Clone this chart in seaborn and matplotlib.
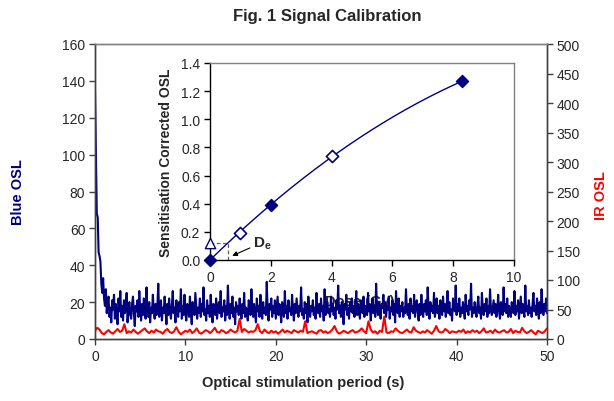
import numpy as np
import pandas as pd
import matplotlib
matplotlib.use("Agg")
import matplotlib.pyplot as plt
import seaborn as sns

# ---------------- data ----------------
blue_osl = [
    135, 100, 68, 66, 47, 45, 42, 30, 25, 33, 22, 18, 27, 14, 20, 23, 12, 17, 9, 21,
    16, 24, 11, 19, 13, 8, 22, 15, 26, 12, 18, 10, 21, 14, 17, 25, 9, 16, 20, 13,
    11, 19, 23, 14, 7, 18, 15, 21, 12, 26, 16, 10, 19, 13, 22, 17, 11, 28, 15, 12,
    20, 9, 17, 14, 24, 16, 11, 19, 13, 18, 30, 12, 15, 21, 10, 17, 14, 23, 16, 8,
    19, 13, 22, 15, 11, 18, 26, 14, 17, 9, 21, 16, 12, 20, 15, 27, 11, 18, 13, 24,
    14, 10, 19, 17, 12, 23, 15, 8, 20, 16, 13, 25, 18, 11, 17, 14, 22, 12, 19, 15,
    28, 13, 16, 10, 21, 14, 18, 12, 24, 15, 9, 19, 17, 13, 22, 11, 16, 20, 14, 26,
    12, 17, 15, 21, 10, 18, 13, 29, 16, 11, 19, 14, 23, 12, 17, 8, 20, 15, 18, 13,
    22, 16, 11, 19, 14, 25, 12, 17, 15, 10, 21, 18, 13, 27, 16, 12, 19, 14, 9, 22,
    15, 18, 12, 24, 16, 11, 20, 14, 17, 13, 31, 15, 10, 19, 16, 22, 12, 18, 14, 21,
    11, 17, 23, 13, 19, 15, 9, 20, 16, 12, 26, 14, 18, 11, 21, 15, 17, 13, 24, 16,
    10, 19, 14, 22, 17, 12, 18, 15, 28, 13, 16, 11, 20, 14, 19, 9, 23, 16, 12, 18,
    15, 21, 13, 17, 11, 25, 16, 14, 19, 12, 22, 15, 18, 10, 27, 13, 17, 20, 14, 16,
    12, 23, 15, 19, 13, 17, 11, 21, 16, 29, 14, 18, 12, 20, 15, 8, 19, 16, 24, 13,
    17, 11, 20, 15, 22, 14, 18, 12, 16, 26, 13, 19, 15, 11, 21, 17, 14, 23, 12, 18,
    16, 13, 25, 15, 19, 10, 17, 22, 14, 18, 12, 30, 16, 13, 20, 15, 11, 19, 17, 24,
    14, 20, 12, 18, 16, 23, 11, 17, 15, 21, 13, 19, 9, 26, 16, 14, 22, 12, 18, 15,
    20, 12, 17, 14, 27, 16, 13, 19, 11, 22, 15, 18, 14, 24, 12, 17, 21, 15, 10, 19,
    13, 24, 16, 12, 19, 15, 21, 13, 28, 17, 11, 20, 15, 18, 14, 25, 12, 16, 22, 14,
    18, 11, 21, 16, 13, 23, 15, 19, 12, 17, 26, 14, 20, 13, 16, 10, 22, 17, 15, 29,
    13, 19, 15, 22, 12, 17, 14, 20, 16, 11, 24, 15, 18, 13, 21, 16, 30, 12, 17, 14,
    20, 15, 12, 18, 23, 14, 17, 11, 25, 16, 13, 19, 15, 22, 12, 18, 14, 27, 16, 13,
    17, 21, 14, 19, 12, 16, 24, 15, 11, 20, 17, 13, 28, 15, 19, 14, 22, 12, 18, 16,
    12, 20, 16, 14, 26, 13, 18, 15, 21, 11, 17, 23, 14, 19, 16, 12, 29, 15, 18, 13,
    21, 14, 17, 12, 19, 25, 15, 18, 13, 22, 16, 11, 20, 14, 27, 17, 13, 19, 15, 22, 14,
]
ir_osl = [
    14, 19, 16, 10, 8, 12, 15, 11, 9, 13, 17, 12, 14, 25, 10, 13, 11, 16, 12, 9,
    12, 15, 18, 13, 10, 14, 11, 16, 13, 12, 9, 14, 17, 12, 10, 13, 20, 12, 8, 11,
    14, 12, 16, 10, 13, 18, 11, 9, 12, 15, 13, 10, 14, 19, 12, 11, 15, 13, 10, 12,
    16, 13, 11, 14, 34, 12, 17, 14, 11, 13, 12, 15, 25, 13, 10, 16, 12, 10, 14, 11,
    13, 9, 12, 16, 11, 14, 12, 10, 15, 13, 11, 14, 12, 30, 10, 12, 13, 11, 9, 14,
    15, 11, 13, 10, 12, 16, 22, 13, 9, 11, 14, 12, 10, 13, 15, 11, 12, 14, 18, 13,
    10, 30, 16, 11, 13, 9, 14, 12, 38, 11, 10, 13, 12, 18, 14, 11, 10, 13, 16, 12,
    11, 20, 14, 12, 10, 13, 11, 15, 12, 9, 14, 22, 13, 11, 12, 17, 14, 10, 13, 12,
    11, 14, 12, 16, 10, 13, 11, 15, 12, 14, 10, 13, 18, 11, 12, 14, 10, 16, 12, 11,
    13, 15, 11, 12, 17, 10, 14, 12, 11, 19, 13, 10, 12, 15, 11, 8, 14, 12, 10, 13, 18,
]
stim_start, stim_end = 0, 50

dose_filled = [0, 2, 8.3]
osl_filled = [0, 0.39, 1.27]
dose_open = [1, 4]
osl_open = [0.19, 0.74]
natural_osl = 0.12

left_ticks = [0, 20, 40, 60, 80, 100, 120, 140, 160]
right_ticks = [0, 50, 100, 150, 200, 250, 300, 350, 400, 450, 500]
x_ticks = [0, 10, 20, 30, 40, 50]
inset_x_ticks = [0, 2, 4, 6, 8, 10]
inset_y_ticks = [0.0, 0.2, 0.4, 0.6, 0.8, 1.0, 1.2, 1.4]

# ---------------- style ----------------
sns.set_theme(style="white")
plt.rcParams["font.family"] = ["Liberation Sans", "DejaVu Sans"]
plt.rcParams["mathtext.fontset"] = "custom"
plt.rcParams["mathtext.rm"] = "Liberation Sans"
plt.rcParams["mathtext.bf"] = "Liberation Sans:bold"

NAVY = "#000080"
RED = "#FF0000"
AX = "#404040"

fig = plt.figure(figsize=(6.14, 4.02), dpi=100)
W, H = 614, 402

def fax(l, t, r, b):
    return [l / W, 1 - b / H, (r - l) / W, (b - t) / H]

ax = fig.add_axes(fax(95, 45, 547, 340))
ax2 = ax.twinx()

df_blue = pd.DataFrame({"t": np.linspace(stim_start, stim_end, len(blue_osl)), "v": blue_osl})
df_red = pd.DataFrame({"t": np.linspace(stim_start, stim_end, len(ir_osl)), "v": ir_osl})

sns.lineplot(data=df_blue, x="t", y="v", ax=ax, color=NAVY, lw=1.5, zorder=2)
sns.lineplot(data=df_red, x="t", y="v", ax=ax2, color=RED, lw=1.5, zorder=2)

ax.set_xlim(0, 50)
ax.set_ylim(0, 160)
ax2.set_ylim(0, 500)
ax.set_xticks(x_ticks)
ax.set_yticks(left_ticks)
ax2.set_yticks(right_ticks)
ax.set_xlabel("")
ax.set_ylabel("")
ax2.set_ylabel("")
for a in (ax, ax2):
    a.tick_params(axis="both", direction="out", length=4, width=1, color=AX,
                  labelsize=10, pad=3)
    for s in a.spines.values():
        s.set_color(AX)
        s.set_linewidth(1)
    a.spines["top"].set_color("#808080")
ax.tick_params(axis="x", bottom=True)
ax.tick_params(axis="y", left=True)
ax2.tick_params(axis="y", right=True)

fig.text(18 / W, 1 - 192 / H, "Blue OSL", rotation=90, ha="center", va="center",
         fontsize=10.5, fontweight="bold", color=NAVY)
fig.text(601 / W, 1 - 196 / H, "IR OSL", rotation=90, ha="center", va="center",
         fontsize=10.5, fontweight="bold", color=RED)
fig.text(303 / W, 1 - 383 / H, "Optical stimulation period (s)", ha="center",
         va="center", fontsize=10.5, fontweight="bold")
fig.text(327 / W, 1 - 16 / H, "Fig. 1 Signal Calibration", ha="center",
         va="center", fontsize=12, fontweight="bold")

# inset x label sits behind the blue signal
ax.text(360 / W, 1 - 302 / H, "Dose (Gy)", transform=fig.transFigure, ha="center",
        va="center", fontsize=10.5, fontweight="bold", zorder=1)

# ---------------- inset ----------------
ins = fig.add_axes(fax(210, 64, 514, 261))
ins.set_facecolor("white")

all_d = np.array(dose_filled + dose_open, dtype=float)
all_o = np.array(osl_filled + osl_open, dtype=float)
A = np.column_stack([all_d, all_d ** 2])
coef, *_ = np.linalg.lstsq(A, all_o, rcond=None)
xf = np.linspace(0, max(dose_filled), 200)
yf = coef[0] * xf + coef[1] * xf ** 2
sns.lineplot(x=xf, y=yf, ax=ins, color=NAVY, lw=1.0, zorder=2)

# equivalent dose from the fit
de = np.interp(natural_osl, yf, xf)
ins.plot([0, de], [natural_osl, natural_osl], ls=(0, (3, 2)), color="#606060", lw=0.9, zorder=1)
ins.plot([de, de], [0, natural_osl], ls=(0, (3, 2)), color="#606060", lw=0.9, zorder=1)

sns.scatterplot(x=dose_filled, y=osl_filled, ax=ins, marker="D", s=38, color=NAVY,
                edgecolor=NAVY, linewidth=1, zorder=4, clip_on=False)
sns.scatterplot(x=dose_open, y=osl_open, ax=ins, marker="D", s=38, color="white",
                edgecolor=NAVY, linewidth=1.2, zorder=4, clip_on=False)
sns.scatterplot(x=[0], y=[natural_osl], ax=ins, marker="^", s=55, color="white",
                edgecolor=NAVY, linewidth=1.0, zorder=4, clip_on=False)

ins.annotate(r"$\mathbf{D_e}$", xy=(de + 0.15, 0.03), xytext=(1.42, 0.125),
             fontsize=11, ha="left", va="center",
             arrowprops=dict(arrowstyle="-|>", color="black", lw=0.8,
                             mutation_scale=7, shrinkA=0, shrinkB=0))

ins.set_xlim(0, 10)
ins.set_ylim(0, 1.4)
ins.set_xticks(inset_x_ticks)
ins.set_yticks(inset_y_ticks)
ins.set_yticklabels([f"{v:.1f}" for v in inset_y_ticks])
ins.set_ylabel("Sensitisation Corrected OSL", fontsize=10, fontweight="bold", labelpad=6)
ins.set_xlabel("")
ins.tick_params(axis="both", direction="out", length=4, width=1, color="black",
                labelsize=10, pad=3, left=True, bottom=True)
for side in ("left", "bottom"):
    ins.spines[side].set_color("black")
    ins.spines[side].set_linewidth(1)
for side in ("top", "right"):
    ins.spines[side].set_color("#808080")
    ins.spines[side].set_linewidth(1)

fig.savefig("out.png", dpi=100)
